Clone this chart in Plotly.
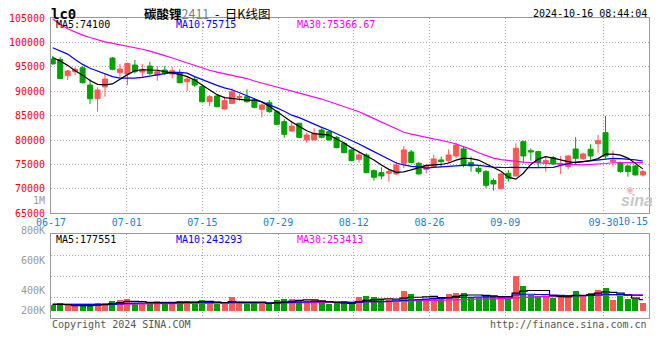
import plotly.graph_objects as go

# ---------------- data ----------------
dates = ["06-17","06-18","06-19","06-20","06-21","06-24","06-25","06-26","06-27","06-28",
         "07-01","07-02","07-03","07-04","07-05","07-08","07-09","07-10","07-11","07-12",
         "07-15","07-16","07-17","07-18","07-19","07-22","07-23","07-24","07-25","07-26",
         "07-29","07-30","07-31","08-01","08-02","08-05","08-06","08-07","08-08","08-09",
         "08-12","08-13","08-14","08-15","08-16","08-19","08-20","08-21","08-22","08-23",
         "08-26","08-27","08-28","08-29","08-30","09-02","09-03","09-04","09-05","09-06",
         "09-09","09-10","09-11","09-12","09-13","09-18","09-19","09-20","09-23","09-24",
         "09-25","09-26","09-27","09-30","10-08","10-09","10-10","10-11","10-14","10-15"]

opens = [96600, 96500, 93200, 94000, 94800, 91270, 88470, 90900, 96800, 93860,
         93520, 95360, 93930, 95160, 93320, 94340, 93520, 93800, 91950, 92430,
         90930, 87860, 89020, 86360, 87520, 88750, 88880, 88200, 86300, 87650,
         85810, 83770, 81860, 83430, 80020, 80020, 82060, 81720, 80560, 79330,
         77970, 76060, 76950, 73740, 73330, 73200, 73060, 75240, 77560, 75240,
         74000, 74560, 75930, 75790, 76740, 78180, 75380, 74220, 73540, 71700,
         70060, 73200, 72650, 79670, 77830, 77630, 75380, 76400, 74970, 74560,
         78180, 76200, 78110, 79260, 81520, 75580, 75380, 74700, 74700, 72860]
highs = [97200, 97000, 94340, 94900, 95150, 92430, 90800, 93650, 97000, 95570,
         95840, 96400, 95570, 96040, 95160, 95160, 95020, 94480, 92970, 92970,
         91270, 89220, 89220, 88880, 90590, 89430, 90380, 88540, 87520, 88200,
         86160, 84250, 83970, 83560, 81520, 82400, 82400, 82060, 80840, 79670,
         78110, 77630, 77290, 74010, 74420, 73880, 75580, 78790, 77970, 75510,
         75110, 76950, 76610, 78110, 79470, 78650, 76610, 74900, 73880, 72170,
         73200, 73880, 79330, 79880, 78310, 77830, 76740, 76740, 76740, 76950,
         80570, 77420, 79130, 81040, 84930, 77830, 75580, 74900, 74900, 73880]
lows = [95400, 92500, 92300, 93300, 91600, 87400, 85800, 88900, 94300, 92970,
        91270, 93650, 92840, 93320, 92160, 93320, 92630, 91600, 90040, 90930,
        87790, 86970, 86700, 86300, 87380, 88070, 87650, 86500, 84650, 85610,
        83090, 80490, 81730, 80430, 79470, 80020, 80360, 79880, 78310, 77290,
        75650, 75380, 73200, 71700, 71970, 71490, 72860, 74220, 75240, 72990,
        73200, 74420, 74420, 75240, 76260, 74420, 73540, 73060, 70130, 69650,
        69920, 71490, 72510, 75240, 75790, 74420, 73540, 74900, 73060, 74010,
        74900, 75930, 75930, 77420, 76260, 74560, 73330, 72510, 72720, 72510]
closes = [95600, 92600, 94150, 94500, 91750, 88470, 90250, 92500, 94500, 94540,
          95700, 94000, 94480, 93660, 94000, 93660, 94200, 91750, 92500, 91270,
          87860, 88880, 86840, 88065, 89900, 88880, 87860, 86700, 87180, 85810,
          83220, 81180, 82860, 80560, 81040, 81380, 80560, 80020, 78450, 77420,
          75790, 76950, 73330, 72380, 72650, 73540, 74900, 77970, 75380, 73060,
          74770, 76130, 75580, 76950, 78990, 74900, 74700, 73540, 70740, 71010,
          73060, 72170, 78310, 76740, 77560, 75380, 75790, 75110, 75110, 76740,
          76260, 77150, 76740, 79880, 76740, 75860, 73540, 73540, 72860, 73540]

volumes = [94000, 125000, 94000, 83000, 78000, 94000, 125000, 125000, 156000, 172000,
           188000, 125000, 115000, 115000, 156000, 115000, 115000, 156000, 156000, 115000,
           172000, 135000, 109000, 109000, 219000, 135000, 109000, 135000, 109000, 109000,
           167000, 188000, 188000, 167000, 156000, 172000, 125000, 109000, 120000, 156000,
           104000, 208000, 224000, 208000, 188000, 167000, 156000, 302000, 266000, 188000,
           188000, 208000, 198000, 266000, 281000, 281000, 208000, 198000, 250000, 224000,
           208000, 198000, 536000, 380000, 250000, 224000, 234000, 198000, 224000, 224000,
           312000, 234000, 270000, 328000, 359000, 172000, 234000, 188000, 188000, 125000]

ma5 = [96900, 96200, 95300, 94200, 93300, 92200, 91400, 91300, 91500, 92500,
       93400, 94200, 94400, 94350, 94300, 94000, 93800, 93450, 93000, 92300,
       91300, 90300, 89300, 88700, 88500, 88300, 88200, 88200, 87800, 86900,
       85800, 84800, 83700, 82800, 81900, 81300, 81100, 81000, 80200, 79400,
       78400, 77600, 76800, 75900, 74900, 74000, 73400, 73500, 73900, 74300,
       74800, 74900, 75000, 75300, 75900, 76300, 76200, 75900, 75100, 74300,
       73600, 72400, 72000, 73200, 75000, 76100, 76600, 76300, 75900, 75600,
       75400, 75600, 75800, 76200, 77100, 77100, 76900, 76300, 75200, 74100]
ma10 = [98900, 98300, 97600, 96500, 95500, 94700, 94100, 93500, 93000, 92700,
        92650, 92700, 92850, 93100, 93400, 93750, 93850, 93850, 93700, 93000,
        92400, 91700, 91200, 90700, 90300, 89700, 89100, 88500, 87800, 87200,
        86600, 85900, 85100, 84600, 83900, 83200, 82600, 82000, 81300, 80600,
        80000, 79200, 78400, 77600, 76900, 76100, 75300, 74900, 74600, 74500,
        74250, 74400, 74500, 74600, 74800, 74900, 74900, 74800, 74600, 74450,
        74400, 74350, 74300, 74300, 74350, 74350, 74350, 74400, 74800, 75200,
        75500, 75600, 75800, 76000, 76150, 76250, 76200, 76100, 75950, 75715]
ma30 = [104800, 103700, 102800, 102100, 101500, 101000, 100500, 100100, 99800, 99500,
        99300, 99000, 98600, 98200, 97800, 97300, 96800, 96300, 95800, 95200,
        94700, 94300, 93900, 93600, 93300, 93000, 92600, 92100, 91700, 91300,
        90900, 90500, 90100, 89700, 89300, 88900, 88400, 87900, 87400, 86900,
        86400, 85800, 85100, 84400, 83600, 82900, 82200, 81600, 81200, 80900,
        80600, 80300, 80000, 79600, 79200, 78700, 78100, 77400, 76800, 76300,
        76000, 75800, 75650, 75500, 75400, 75300, 75250, 75200, 75100, 75000,
        74950, 74900, 74950, 75050, 75200, 75350, 75400, 75400, 75380, 75367]

vol_ma5 = [105000, 105000, 100000, 85000, 85000, 85000, 90000, 100000, 115000, 130000,
           150000, 150000, 145000, 135000, 130000, 125000, 125000, 130000, 135000, 135000,
           145000, 150000, 140000, 130000, 145000, 140000, 140000, 140000, 140000, 120000,
           130000, 140000, 150000, 165000, 175000, 175000, 160000, 145000, 135000, 125000,
           120000, 145000, 165000, 175000, 185000, 190000, 185000, 200000, 215000, 215000,
           220000, 230000, 210000, 210000, 230000, 245000, 250000, 250000, 245000, 235000,
           220000, 220000, 280000, 310000, 320000, 320000, 320000, 240000, 225000, 220000,
           240000, 245000, 255000, 280000, 300000, 290000, 280000, 250000, 200000, 177551]
vol_ma10 = [105000, 105000, 105000, 105000, 105000, 105000, 105000, 105000, 105000, 112000,
            118000, 122000, 125000, 128000, 132000, 135000, 135000, 138000, 140000, 138000,
            136000, 135000, 135000, 132000, 135000, 135000, 132000, 132000, 130000, 128000,
            128000, 132000, 135000, 140000, 143000, 148000, 148000, 145000, 140000, 140000,
            135000, 140000, 146000, 146000, 148000, 150000, 160000, 167000, 172000, 178000,
            185000, 192000, 196000, 205000, 212000, 215000, 215000, 218000, 220000, 222000,
            226000, 225000, 250000, 262000, 262000, 258000, 255000, 250000, 245000, 240000,
            245000, 240000, 242000, 250000, 262000, 258000, 255000, 250000, 246000, 243293]
vol_ma30 = [105000, 105000, 105000, 105000, 105000, 105000, 105000, 105000, 105000, 106000,
            108000, 110000, 111000, 112000, 113000, 114000, 115000, 116000, 117000, 118000,
            119000, 120000, 121000, 121000, 122000, 123000, 123000, 124000, 124000, 125000,
            126000, 127000, 128000, 130000, 131000, 132000, 133000, 134000, 135000, 136000,
            137000, 139000, 141000, 143000, 145000, 148000, 151000, 154000, 157000, 160000,
            163000, 166000, 169000, 172000, 175000, 178000, 181000, 184000, 187000, 190000,
            193000, 196000, 205000, 212000, 217000, 221000, 225000, 228000, 231000, 234000,
            238000, 240000, 242000, 245000, 249000, 250000, 251000, 252000, 253000, 253413]

price_ticks = [65000, 70000, 75000, 80000, 85000, 90000, 95000, 100000, 105000]
date_tick_idx = [0, 10, 20, 30, 40, 50, 60, 73]
vol_tick_labels = ["1M", "800K", "600K", "400K", "200K"]

title_name = "碳酸锂"
title_code = "2411"
title_tail = "\u00a0\u00a0-\u00a0\u00a0日K线图"
symbol = "lc0"
timestamp = "2024-10-16 08:44:04"
ma30_last_label = "75366.67"

# ---------------- layout geometry (reference pixel coordinates) ----------------
W, H = 660, 360
PAGE_OFF = 8                      # the page body offsets the figure by 8px
PLOT_L, PLOT_R, PLOT_T, PLOT_B = 51, 649, 18, 318
ML = PLOT_L - PAGE_OFF
MT = PLOT_T - PAGE_OFF
MR = W - (PLOT_R - PAGE_OFF)
MB = H - (PLOT_B - PAGE_OFF)
PW = PLOT_R - PLOT_L
PH = PLOT_B - PLOT_T

def pxx(x):
    return (x - PLOT_L) / PW

def pxy(y):
    return (PLOT_B - y) / PH

MAIN_BOTTOM_PX = 213.3
VOL_TOP_PX = 234.3
VOL_BASE_PX = 311.0
VOL_PX_PER_UNIT = 6.4 / 100000.0

n = len(dates)
xs = list(range(n))
X0, X1 = -0.23, 79.82
grid_x = [X0 + k * (X1 - X0) / (n - 1) for k in date_tick_idx]
grid_text = [dates[k] for k in date_tick_idx]

vmin = -(PLOT_B - VOL_BASE_PX) / VOL_PX_PER_UNIT
vmax = (VOL_BASE_PX - VOL_TOP_PX) / VOL_PX_PER_UNIT
vol_grid = [vmin + (vmax - vmin) * f for f in (0.25, 0.5, 0.75)]

RED = "#FF5656"
GREEN = "#00A000"
MONO = "DejaVu Sans Mono"
GRIDC = "#AAAAAA"
BORDER = "#999999"
DOT = "1px,2px"
DATE_BLUE = "#1A7FD6"

up = [c >= o for o, c in zip(opens, closes)]
bar_colors = [RED if u else GREEN for u in up]

fig = go.Figure()
fig.add_trace(go.Candlestick(
    x=xs, open=opens, high=highs, low=lows, close=closes,
    increasing=dict(line=dict(color=RED, width=1), fillcolor=RED),
    decreasing=dict(line=dict(color=GREEN, width=1), fillcolor=GREEN),
    whiskerwidth=0, xaxis="x", yaxis="y", hoverinfo="skip"))
for arr, col in [(ma30, "#FF00FF"), (ma10, "#0000FF"), (ma5, "#000000")]:
    fig.add_trace(go.Scatter(x=xs, y=arr, mode="lines", line=dict(color=col, width=1.2),
                             xaxis="x", yaxis="y", hoverinfo="skip"))

fig.add_trace(go.Bar(x=xs, y=volumes, width=0.8,
                     marker=dict(color=bar_colors, line=dict(width=0)),
                     xaxis="x2", yaxis="y2", hoverinfo="skip"))
for arr, col in [(vol_ma30, "#FF00FF"), (vol_ma10, "#0000FF"), (vol_ma5, "#000000")]:
    fig.add_trace(go.Scatter(x=xs, y=arr, mode="lines", line=dict(color=col, width=1.2, shape="hvh"),
                             xaxis="x2", yaxis="y2", hoverinfo="skip"))

axis_common = dict(showline=True, mirror=True, linecolor=BORDER, linewidth=1, automargin=False,
                   zeroline=False, griddash=DOT, gridcolor=GRIDC, gridwidth=1, ticks="")

fig.update_layout(
    template="none",
    width=W, height=H, autosize=False,
    margin=dict(l=ML, r=MR, t=MT, b=MB, pad=0),
    paper_bgcolor="white", plot_bgcolor="white",
    showlegend=False, hovermode=False,
    boxgap=0.33, boxgroupgap=0,
    xaxis=dict(domain=[0, 1], range=[X0, X1], tickmode="array", tickvals=grid_x, ticktext=grid_text,
               tickfont=dict(family=MONO, size=10, color=DATE_BLUE), showgrid=True,
               rangeslider=dict(visible=False), anchor="y", **axis_common),
    yaxis=dict(domain=[pxy(MAIN_BOTTOM_PX), 1], range=[price_ticks[0], price_ticks[-1]],
               tickmode="array", tickvals=price_ticks, ticktext=[str(v) for v in price_ticks],
               tickfont=dict(family=MONO, size=10, color="#FF0000"), showgrid=True,
               ticklabelstandoff=3, anchor="x", **axis_common),
    xaxis2=dict(domain=[0, 1], range=[X0, X1], tickmode="array", tickvals=grid_x,
                showticklabels=False, showgrid=True, anchor="y2", **axis_common),
    yaxis2=dict(domain=[0, pxy(VOL_TOP_PX)], range=[vmin, vmax], tickmode="array",
                tickvals=vol_grid, showticklabels=False, showgrid=True, anchor="x2", **axis_common),
    bargap=0,
)

ann = []
def text(x, y, s, color="#000000", size=10, anchor="left", family=MONO, bold=False, yanchor="middle"):
    if bold:
        s = "<b>" + s + "</b>"
    ann.append(dict(x=pxx(x), y=pxy(y), xref="paper", yref="paper", text=s, showarrow=False,
                    xanchor=anchor, yanchor=yanchor, font=dict(family=family, size=size, color=color)))

# header (kept just inside the top edge of the figure)
text(49, 13.5, symbol, size=14, bold=True)
text(207, 13.5, "<b>" + title_name + "</b><span style='color:#808080'>" + title_code + "</span>" + title_tail,
     size=12.5, anchor="center", family="Noto Sans CJK SC")
text(649, 13, timestamp, anchor="right")
# main MA labels
text(54, 24, "MA5:%d" % ma5[-1], color="#000000")
text(174, 24, "MA10:%d" % ma10[-1], color="#0000FF")
text(295, 24, "MA30:" + ma30_last_label, color="#FF00FF")
# volume MA labels
text(54, 239.5, "MA5:%d" % vol_ma5[-1], color="#000000")
text(174, 239.5, "MA10:%d" % vol_ma10[-1], color="#0000FF")
text(295, 239.5, "MA30:%d" % vol_ma30[-1], color="#FF00FF")
# volume scale labels (as drawn in the original)
for lab, ypix in zip(vol_tick_labels, [200.7, 230.3, 260.3, 290.3, 310.3]):
    text(46.5, ypix, lab, color="#999999", anchor="right")
# last date label
text(649.5, 221.7, dates[-1], color=DATE_BLUE, anchor="right")
# footer
text(50, 324.5, "Copyright 2024 SINA.COM", color="#555555")
text(649, 324.5, "http://finance.sina.com.cn", color="#555555", anchor="right")
# watermark
ann.append(dict(x=pxx(637), y=pxy(200), xref="paper", yref="paper", text="<b><i>sina</i></b>",
                showarrow=False, xanchor="center", yanchor="middle",
                font=dict(family="Liberation Sans", size=16, color="#C8C8C8")))
ann.append(dict(x=pxx(630), y=pxy(189.5), xref="paper", yref="paper", text="◉",
                showarrow=False, xanchor="center", yanchor="middle",
                font=dict(family="DejaVu Sans", size=9, color="#F2B8B8")))

fig.update_layout(annotations=ann)
fig.write_html("out.html")
